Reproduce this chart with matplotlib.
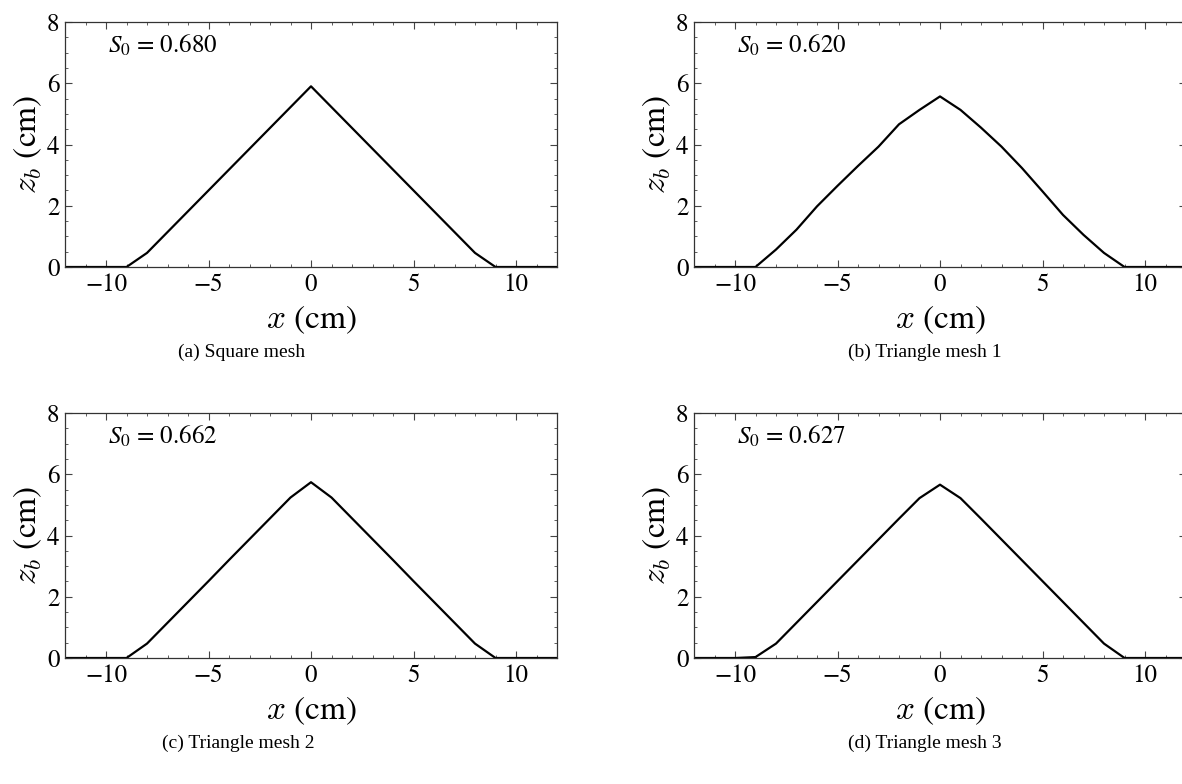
import matplotlib
matplotlib.use("Agg")
import matplotlib.pyplot as plt
from matplotlib.ticker import MultipleLocator

plt.rcParams["font.family"] = ["STIXGeneral", "DejaVu Serif"]
plt.rcParams["mathtext.fontset"] = "stix"

# Bed profiles z_b(x) sampled every 1 cm
x_cm = [-12, -11, -10, -9, -8, -7, -6, -5, -4, -3, -2, -1, 0,
        1, 2, 3, 4, 5, 6, 7, 8, 9, 10, 11, 12]

zb_square = [0, 0, 0, 0, 0.46, 1.14, 1.82, 2.50, 3.18, 3.86, 4.54, 5.22, 5.90,
             5.22, 4.54, 3.86, 3.18, 2.50, 1.82, 1.14, 0.46, 0, 0, 0, 0]
zb_tri1 = [0, 0, 0, 0, 0.57, 1.22, 1.98, 2.65, 3.30, 3.93, 4.66, 5.13, 5.57,
           5.13, 4.55, 3.93, 3.23, 2.47, 1.70, 1.05, 0.46, 0, 0, 0, 0]
zb_tri2 = [0, 0, 0, 0, 0.47, 1.15, 1.83, 2.51, 3.20, 3.88, 4.56, 5.24, 5.74,
           5.24, 4.56, 3.88, 3.20, 2.51, 1.83, 1.15, 0.47, 0, 0, 0, 0]
zb_tri3 = [0, 0, 0, 0.03, 0.47, 1.15, 1.83, 2.51, 3.19, 3.87, 4.55, 5.22, 5.66,
           5.22, 4.55, 3.87, 3.19, 2.51, 1.83, 1.15, 0.47, 0, 0, 0, 0]

s0_values = [0.680, 0.620, 0.662, 0.627]
captions = ["(a) Square mesh", "(b) Triangle mesh 1",
            "(c) Triangle mesh 2", "(d) Triangle mesh 3"]
profiles = [zb_square, zb_tri1, zb_tri2, zb_tri3]

W, H = 1182, 784
fig = plt.figure(figsize=(W / 100, H / 100), dpi=100)

# axes boxes in pixels: (left, top)
ax_w, ax_h = 492, 245
boxes = [(65, 22), (694, 22), (65, 413), (694, 413)]
caption_pos = [(242, 352), (925, 352), (238, 743), (925, 743)]

for (left, top), zb, s0, cap, (cx, cy) in zip(boxes, profiles, s0_values,
                                               captions, caption_pos):
    ax = fig.add_axes([left / W, 1 - (top + ax_h) / H, ax_w / W, ax_h / H])
    ax.plot(x_cm, zb, color="black", lw=1.6)
    ax.set_xlim(-12, 12)
    ax.set_ylim(0, 8)
    ax.xaxis.set_major_locator(MultipleLocator(5))
    ax.xaxis.set_minor_locator(MultipleLocator(1))
    ax.yaxis.set_major_locator(MultipleLocator(2))
    ax.yaxis.set_minor_locator(MultipleLocator(0.5))
    ax.tick_params(which="both", direction="in", top=True, right=True,
                   labelsize=18, colors="#444444", labelcolor="black")
    ax.tick_params(which="major", length=5, width=0.8, pad=4)
    ax.tick_params(which="minor", length=2.5, width=0.6)
    for sp in ax.spines.values():
        sp.set_linewidth(0.9)
        sp.set_color("#333333")
    ax.set_xlabel(r"$x$ (cm)", fontsize=24, labelpad=5,
                  math_fontfamily="cm")
    ax.set_ylabel(r"$z_b$ (cm)", fontsize=24, labelpad=2,
                  math_fontfamily="cm")
    ax.text(-9.9, 7.0, r"$S_0$ = %.3f" % s0, fontsize=18, va="baseline")
    fig.text(cx / W, 1 - cy / H, cap, ha="center", va="center",
             fontsize=14, family=["Liberation Serif", "DejaVu Serif"])

fig.savefig("out.png", dpi=100)
